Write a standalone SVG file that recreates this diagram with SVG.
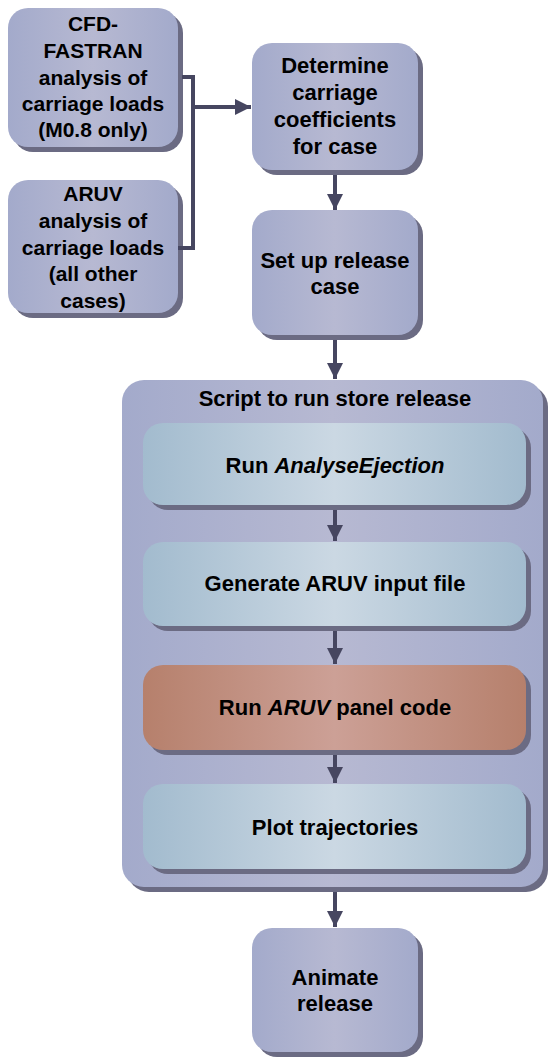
<svg xmlns="http://www.w3.org/2000/svg" width="549" height="1057" viewBox="0 0 549 1057">
<defs>
<linearGradient id="gNode" x1="0" y1="0" x2="1" y2="0">
<stop offset="0" stop-color="#a3aacb"/><stop offset="0.5" stop-color="#b7b9d2"/><stop offset="1" stop-color="#a3aacb"/>
</linearGradient>
<linearGradient id="gInner" x1="0" y1="0" x2="1" y2="0">
<stop offset="0" stop-color="#a2bbce"/><stop offset="0.5" stop-color="#cbd8e3"/><stop offset="1" stop-color="#a2bbce"/>
</linearGradient>
<linearGradient id="gRed" x1="0" y1="0" x2="1" y2="0">
<stop offset="0" stop-color="#b6806c"/><stop offset="0.5" stop-color="#cca096"/><stop offset="1" stop-color="#b6806c"/>
</linearGradient>
<marker id="arr" markerWidth="4" markerHeight="4" refX="4" refY="2" orient="auto" markerUnits="strokeWidth">
<path d="M0,0 L4,2 L0,4 z" fill="#464660"/>
</marker>
<style>
.sh{fill:#6b6b83}
.n{fill:url(#gNode)}
.i{fill:url(#gInner)}
.r{fill:url(#gRed)}
text{font-family:"Liberation Sans",Arial,sans-serif;font-weight:bold;fill:#000;text-anchor:middle}
.t22{font-size:22px}
.t20{font-size:21px}
.c{fill:none;stroke:#464660;stroke-width:4}
</style>
</defs>

<g id="container">
<rect class="sh" x="127" y="385" width="421" height="507" rx="22"/>
<rect class="n" x="122" y="380" width="421" height="507" rx="22"/>
<text class="t22" x="335" y="406">Script to run store release</text>
</g>

<g id="cfd">
<rect class="sh" x="13" y="13" width="170" height="139" rx="20"/>
<rect class="n" x="8" y="8" width="170" height="139" rx="20"/>
<text class="t20" x="93" y="31">CFD-</text>
<text class="t20" x="93" y="58">FASTRAN</text>
<text class="t20" x="93" y="85">analysis of</text>
<text class="t20" x="93" y="111">carriage loads</text>
<text class="t20" x="93" y="137">(M0.8 only)</text>
</g>

<g id="aruv">
<rect class="sh" x="13" y="185" width="170" height="133" rx="20"/>
<rect class="n" x="8" y="180" width="170" height="133" rx="20"/>
<text class="t20" x="93" y="201">ARUV</text>
<text class="t20" x="93" y="228">analysis of</text>
<text class="t20" x="93" y="255">carriage loads</text>
<text class="t20" x="93" y="281">(all other</text>
<text class="t20" x="93" y="308">cases)</text>
</g>

<g id="determine">
<rect class="sh" x="257" y="48" width="166" height="127" rx="20"/>
<rect class="n" x="252" y="43" width="166" height="127" rx="20"/>
<text class="t22" x="335" y="73">Determine</text>
<text class="t22" x="335" y="100">carriage</text>
<text class="t22" x="335" y="127">coefficients</text>
<text class="t22" x="335" y="154">for case</text>
</g>

<g id="setup">
<rect class="sh" x="257" y="215" width="166" height="125" rx="20"/>
<rect class="n" x="252" y="210" width="166" height="125" rx="20"/>
<text class="t22" x="335" y="268">Set up release</text>
<text class="t22" x="335" y="294">case</text>
</g>

<g id="analyse">
<rect class="sh" x="148" y="428" width="383" height="82" rx="20"/>
<rect class="i" x="143" y="423" width="383" height="82" rx="20"/>
<text class="t22" x="335" y="473">Run <tspan font-style="italic">AnalyseEjection</tspan></text>
</g>

<g id="generate">
<rect class="sh" x="148" y="547" width="383" height="84" rx="20"/>
<rect class="i" x="143" y="542" width="383" height="84" rx="20"/>
<text class="t22" x="335" y="591">Generate ARUV input file</text>
</g>

<g id="runaruv">
<rect class="sh" x="148" y="670" width="383" height="85" rx="20"/>
<rect class="r" x="143" y="665" width="383" height="85" rx="20"/>
<text class="t22" x="335" y="715">Run <tspan font-style="italic">ARUV</tspan> panel code</text>
</g>

<g id="plot">
<rect class="sh" x="148" y="789" width="383" height="85" rx="20"/>
<rect class="i" x="143" y="784" width="383" height="85" rx="20"/>
<text class="t22" x="335" y="835">Plot trajectories</text>
</g>

<g id="animate">
<rect class="sh" x="257" y="933" width="166" height="124" rx="20"/>
<rect class="n" x="252" y="928" width="166" height="124" rx="20"/>
<text class="t22" x="335" y="985">Animate</text>
<text class="t22" x="335" y="1011">release</text>
</g>

<g id="connectors">
<polyline class="c" points="182,77 193,77 193,248 178,248"/>
<line class="c" x1="193" y1="107" x2="251" y2="107" marker-end="url(#arr)"/>
<line class="c" x1="335" y1="175" x2="335" y2="210" marker-end="url(#arr)"/>
<line class="c" x1="335" y1="340" x2="335" y2="379" marker-end="url(#arr)"/>
<line class="c" x1="335" y1="510" x2="335" y2="541" marker-end="url(#arr)"/>
<line class="c" x1="335" y1="631" x2="335" y2="664" marker-end="url(#arr)"/>
<line class="c" x1="335" y1="755" x2="335" y2="783" marker-end="url(#arr)"/>
<line class="c" x1="335" y1="892" x2="335" y2="927" marker-end="url(#arr)"/>
</g>
</svg>
